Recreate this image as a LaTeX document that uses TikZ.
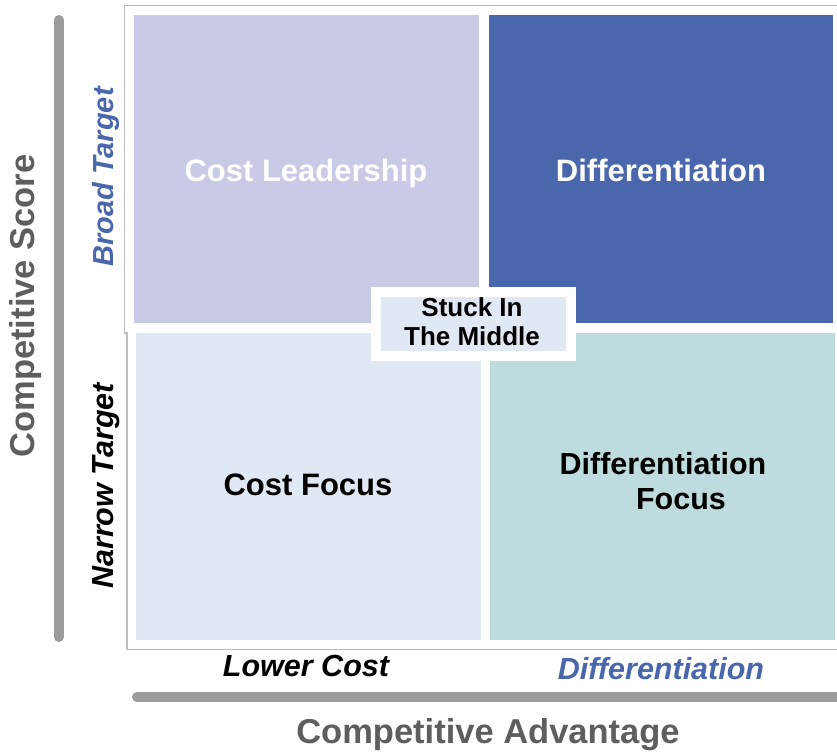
\documentclass[tikz,border=0pt]{standalone}
\usepackage{fontspec}
\setmainfont{Liberation Sans}
\definecolor{clcol}{HTML}{C9CAE6}
\definecolor{dfcol}{HTML}{4A66AC}
\definecolor{cfcol}{HTML}{DFE8F3}
\definecolor{dffcol}{HTML}{BEDBDE}
\definecolor{barcol}{HTML}{9B9B9B}
\definecolor{labgray}{HTML}{5E5E5E}
\definecolor{framecol}{HTML}{BDBDBD}
\tikzset{
  quad/.style={rectangle, inner sep=0pt, outer sep=0pt},
  qlabel/.style={inner sep=0pt, font=\bfseries\fontsize{31}{35}\selectfont},
  axlabel/.style={inner sep=0pt, text=labgray, font=\bfseries\fontsize{34.5}{38}\selectfont},
  sublabel/.style={inner sep=0pt, font=\bfseries\itshape\fontsize{30.5}{34}\selectfont},
  axisbar/.style={line width=10pt, line cap=round, draw=barcol},
}
\begin{document}
\begin{tikzpicture}[x=1pt, y=-1pt]
\useasboundingbox (0,0) rectangle (837,752);
% frame
\draw[framecol, line width=1.2pt] (837,5.5) -- (124.5,5.5) -- (124.5,333) -- (127,333) -- (127,649.5) -- (837,649.5);
% quadrants
\node[quad, fill=clcol, minimum width=345pt, minimum height=308pt] (cl) at (306.5,169) {};
\node[quad, fill=dfcol, minimum width=344pt, minimum height=308pt] (df) at (661,169) {};
\node[quad, fill=cfcol, minimum width=345pt, minimum height=307pt] (cf) at (308.5,486.5) {};
\node[quad, fill=dffcol, minimum width=345pt, minimum height=307pt] (dff) at (662.5,486.5) {};
% quadrant labels
\node[qlabel, text=white, anchor=base] (tcl) at (306,181) {Cost Leadership};
\node[qlabel, text=white, anchor=base] (tdf) at (661,181) {Differentiation};
\node[qlabel, text=black, anchor=base] (tcf) at (308,495) {Cost Focus};
\node[qlabel, text=black, align=center, font=\bfseries\fontsize{30.5}{35}\selectfont] (tdff) at (663,481) {Differentiation\\\hspace*{36pt}Focus};
% stuck in the middle
\node[quad, fill=cfcol, draw=white, line width=10pt, minimum width=194.5pt, minimum height=64pt] (mid) at (473.25,324) {};
\node[inner sep=0pt, align=center, font=\bfseries\fontsize{26}{29}\selectfont] (tmid) at (472,322) {Stuck In\\The Middle};
% axes
\coordinate (ytop) at (59,20);
\coordinate (ybot) at (59,637);
\coordinate (xl) at (137,697);
\coordinate (xr) at (850,697);
\draw[axisbar] (ytop) -- (ybot);
\draw[axisbar] (xl) -- (xr);
\node[axlabel, rotate=90, anchor=base] (ys) at (34,306) {Competitive Score};
\node[axlabel, anchor=base] (xs) at (488,743) {Competitive Advantage};
\node[sublabel, text=dfcol, rotate=90, anchor=base, font=\bfseries\itshape\fontsize{29}{32}\selectfont] (bt) at (113,177) {Broad Target};
\node[sublabel, text=black, rotate=90, anchor=base] (nt) at (113,486) {Narrow Target};
\node[sublabel, text=black, anchor=base] (lc) at (306,676) {Lower Cost};
\node[sublabel, text=dfcol, anchor=base] (dx) at (661,679) {Differentiation};
\end{tikzpicture}
\end{document}
